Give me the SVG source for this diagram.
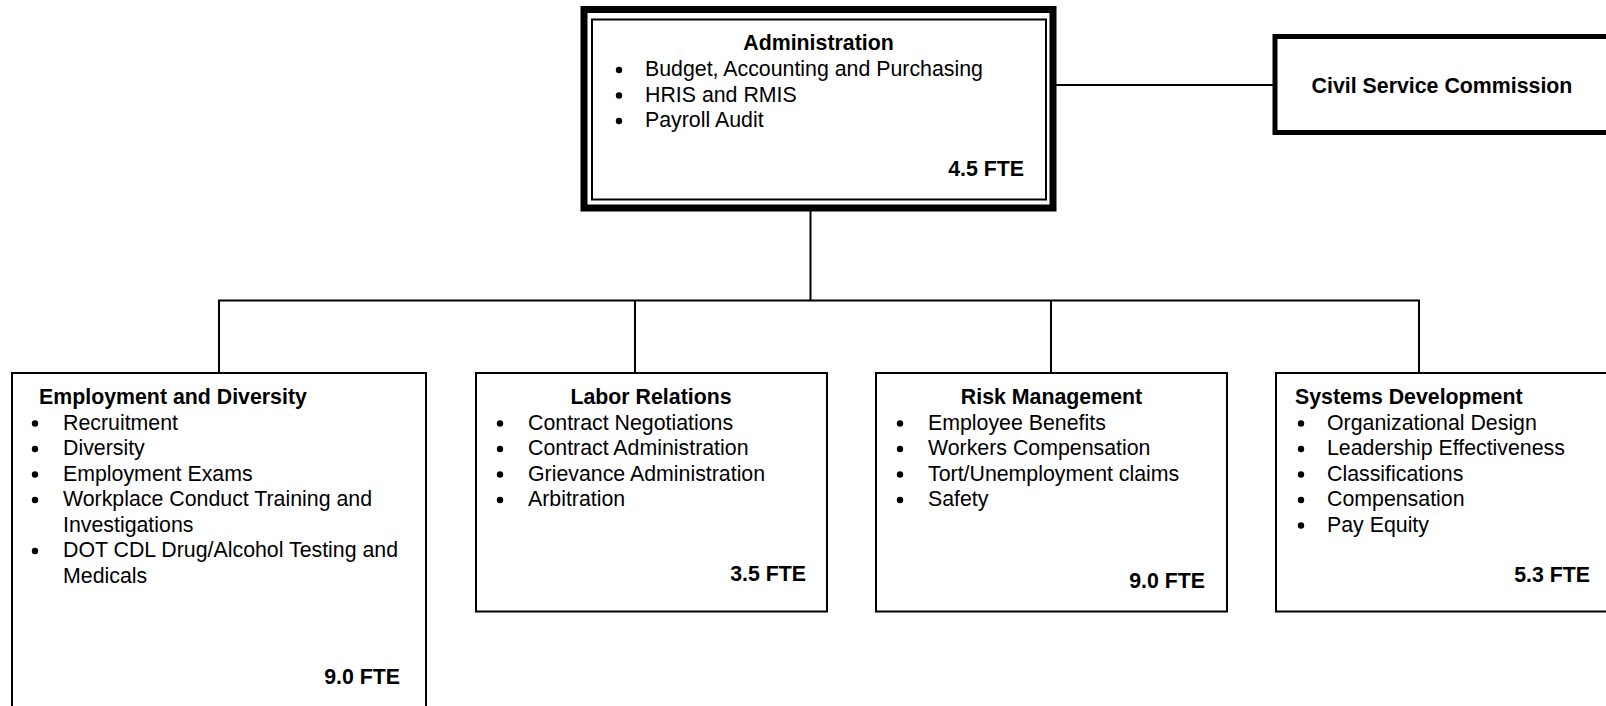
<svg xmlns="http://www.w3.org/2000/svg" width="1606" height="706" viewBox="0 0 1606 706">
<style>
text{font-family:"Liberation Sans",Arial,sans-serif;font-size:21.33px;fill:#000}
.b{font-weight:bold}
.m{text-anchor:middle}
.e{text-anchor:end}
.box{fill:#fff;stroke:#000;stroke-width:2}
.conn{fill:none;stroke:#000;stroke-width:2}
.dot{fill:#000}
</style>
<rect width="1606" height="706" fill="#fff"/>
<g id="connectors" class="conn">
<path d="M1056 85H1274"/>
<path d="M810.5 211V300.5"/>
<path d="M218 300.5H1420"/>
<path d="M219 300.5V373M635 300.5V373M1051 300.5V373M1419 300.5V373"/>
</g>
<g id="administration">
<rect x="584" y="9.5" width="469" height="198.5" fill="#fff" stroke="#000" stroke-width="7"/>
<rect x="592" y="19.5" width="454" height="180" fill="none" stroke="#000" stroke-width="2"/>
<text class="b m" x="818.5" y="50">Administration</text>
<circle class="dot" cx="619" cy="70" r="3.2"/>
<circle class="dot" cx="619" cy="95.5" r="3.2"/>
<circle class="dot" cx="619" cy="121" r="3.2"/>
<text x="645" y="76">Budget, Accounting and Purchasing</text>
<text x="645" y="101.5">HRIS and RMIS</text>
<text x="645" y="127">Payroll Audit</text>
<text class="b e" x="1024" y="176">4.5 FTE</text>
</g>
<g id="civil-service-commission">
<rect x="1275" y="36.5" width="345" height="96" fill="#fff" stroke="#000" stroke-width="5"/>
<text class="b m" x="1442" y="93">Civil Service Commission</text>
</g>
<g id="employment-diversity">
<rect class="box" x="12" y="373" width="414" height="345"/>
<text class="b" x="39" y="404">Employment and Diversity</text>
<circle class="dot" cx="35" cy="423.5" r="3.2"/>
<circle class="dot" cx="35" cy="449" r="3.2"/>
<circle class="dot" cx="35" cy="474.5" r="3.2"/>
<circle class="dot" cx="35" cy="500" r="3.2"/>
<circle class="dot" cx="35" cy="551" r="3.2"/>
<text x="63" y="429.5">Recruitment</text>
<text x="63" y="455">Diversity</text>
<text x="63" y="480.5">Employment Exams</text>
<text x="63" y="506">Workplace Conduct Training and</text>
<text x="63" y="531.5">Investigations</text>
<text x="63" y="557">DOT CDL Drug/Alcohol Testing and</text>
<text x="63" y="582.5">Medicals</text>
<text class="b e" x="400" y="684">9.0 FTE</text>
</g>
<g id="labor-relations">
<rect class="box" x="476" y="373" width="351" height="238.5"/>
<text class="b m" x="651" y="404">Labor Relations</text>
<circle class="dot" cx="500" cy="423.5" r="3.2"/>
<circle class="dot" cx="500" cy="449" r="3.2"/>
<circle class="dot" cx="500" cy="474.5" r="3.2"/>
<circle class="dot" cx="500" cy="500" r="3.2"/>
<text x="528" y="429.5">Contract Negotiations</text>
<text x="528" y="455">Contract Administration</text>
<text x="528" y="480.5">Grievance Administration</text>
<text x="528" y="506">Arbitration</text>
<text class="b e" x="806" y="581">3.5 FTE</text>
</g>
<g id="risk-management">
<rect class="box" x="876" y="373" width="351" height="238.5"/>
<text class="b m" x="1051.5" y="404">Risk Management</text>
<circle class="dot" cx="900" cy="423.5" r="3.2"/>
<circle class="dot" cx="900" cy="449" r="3.2"/>
<circle class="dot" cx="900" cy="474.5" r="3.2"/>
<circle class="dot" cx="900" cy="500" r="3.2"/>
<text x="928" y="429.5">Employee Benefits</text>
<text x="928" y="455">Workers Compensation</text>
<text x="928" y="480.5">Tort/Unemployment claims</text>
<text x="928" y="506">Safety</text>
<text class="b e" x="1205" y="588">9.0 FTE</text>
</g>
<g id="systems-development">
<rect class="box" x="1276" y="373" width="345" height="238.5"/>
<text class="b" x="1295" y="404">Systems Development</text>
<circle class="dot" cx="1301" cy="423.5" r="3.2"/>
<circle class="dot" cx="1301" cy="449" r="3.2"/>
<circle class="dot" cx="1301" cy="474.5" r="3.2"/>
<circle class="dot" cx="1301" cy="500" r="3.2"/>
<circle class="dot" cx="1301" cy="525.5" r="3.2"/>
<text x="1327" y="429.5">Organizational Design</text>
<text x="1327" y="455">Leadership Effectiveness</text>
<text x="1327" y="480.5">Classifications</text>
<text x="1327" y="506">Compensation</text>
<text x="1327" y="531.5">Pay Equity</text>
<text class="b e" x="1590" y="582">5.3 FTE</text>
</g>
</svg>
